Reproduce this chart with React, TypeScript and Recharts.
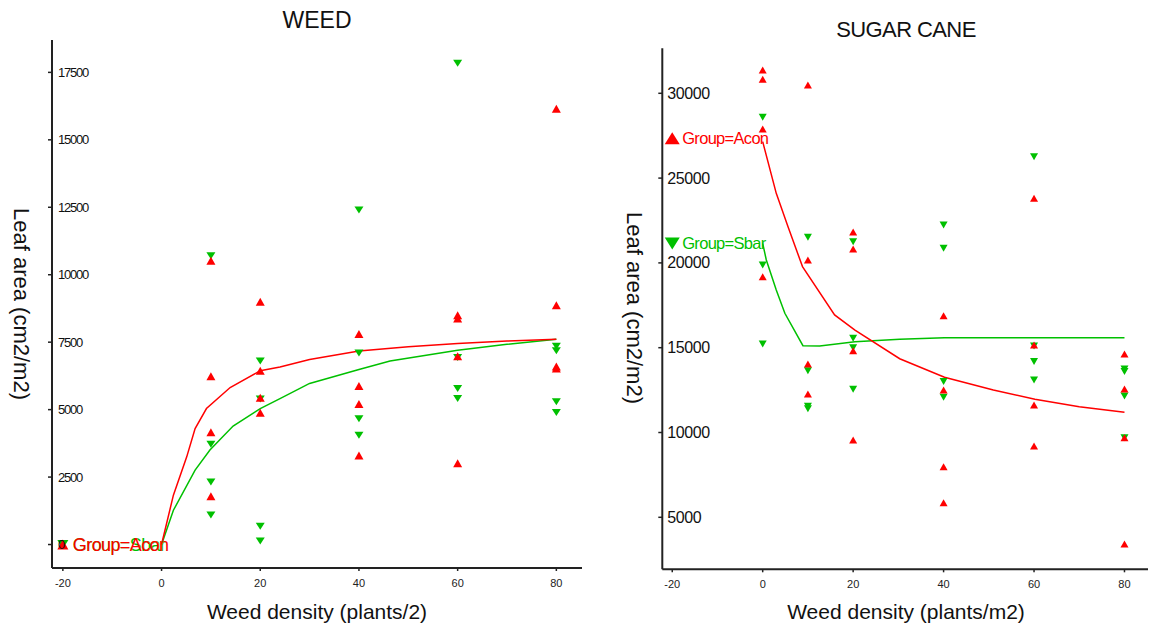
import React from 'react';
import { ComposedChart, Line, Scatter, XAxis, YAxis } from 'recharts';

// ---------- shared ----------
const xTicks = [-20, 0, 20, 40, 60, 80];
const xDomain = [-22.2, 85.2];
const RED = '#ff0000';
const GREEN = '#00c000';
const FONT = '"Liberation Sans", Arial, sans-serif';

// ---------- WEED (left) ----------
const weedYTicks = [0, 2500, 5000, 7500, 10000, 12500, 15000, 17500];
const weedYDomain = [-870, 18700];

const weedAconPoints = [
  { x: 10, y: 10520 }, { x: 10, y: 6240 }, { x: 10, y: 4160 }, { x: 10, y: 1790 },
  { x: 20, y: 9000 }, { x: 20, y: 6440 }, { x: 20, y: 5440 }, { x: 20, y: 4880 },
  { x: 40, y: 7800 }, { x: 40, y: 5880 }, { x: 40, y: 5210 }, { x: 40, y: 3300 },
  { x: 60, y: 8500 }, { x: 60, y: 8380 }, { x: 60, y: 6980 }, { x: 60, y: 3010 },
  { x: 80, y: 16150 }, { x: 80, y: 8870 }, { x: 80, y: 6600 }, { x: 80, y: 6520 },
];
const weedSbarPoints = [
  { x: 10, y: 10700 }, { x: 10, y: 3720 }, { x: 10, y: 2320 }, { x: 10, y: 1090 },
  { x: 20, y: 6800 }, { x: 20, y: 5390 }, { x: 20, y: 680 }, { x: 20, y: 130 },
  { x: 40, y: 12400 }, { x: 40, y: 7100 }, { x: 40, y: 4660 }, { x: 40, y: 4050 },
  { x: 60, y: 17840 }, { x: 60, y: 6930 }, { x: 60, y: 5780 }, { x: 60, y: 5410 },
  { x: 80, y: 7350 }, { x: 80, y: 7180 }, { x: 80, y: 5290 }, { x: 80, y: 4890 },
];
const weedAconCurve = [
  { x: 0, y: 0 }, { x: 2.4, y: 1830 }, { x: 5.1, y: 3250 }, { x: 6.8, y: 4300 },
  { x: 9.1, y: 5040 }, { x: 13.9, y: 5820 }, { x: 20, y: 6440 }, { x: 24, y: 6580 },
  { x: 30, y: 6860 }, { x: 40, y: 7170 }, { x: 50, y: 7330 }, { x: 60, y: 7450 },
  { x: 70, y: 7540 }, { x: 80, y: 7610 },
];
const weedSbarCurve = [
  { x: 0, y: 0 }, { x: 2.4, y: 1270 }, { x: 6.8, y: 2760 }, { x: 9.8, y: 3500 },
  { x: 14.5, y: 4390 }, { x: 20, y: 5040 }, { x: 24, y: 5410 }, { x: 30, y: 5970 },
  { x: 40, y: 6490 }, { x: 46.3, y: 6800 }, { x: 60, y: 7200 }, { x: 70, y: 7420 },
  { x: 80, y: 7610 },
];
const weedAconLegend = [{ x: -20, y: 0, label: 'Group=Acon' }];
const weedSbarLegend = [{ x: -20, y: 0, label: 'Group=Sbar' }];

// ---------- SUGAR CANE (right) ----------
const caneYTicks = [5000, 10000, 15000, 20000, 25000, 30000];
const caneYDomain = [1934, 32653];

const caneAconPoints = [
  { x: 0, y: 31370 }, { x: 0, y: 30830 }, { x: 0, y: 27900 }, { x: 0, y: 19190 },
  { x: 10, y: 30490 }, { x: 10, y: 20170 }, { x: 10, y: 14040 }, { x: 10, y: 12270 },
  { x: 20, y: 21820 }, { x: 20, y: 20820 }, { x: 20, y: 14820 }, { x: 20, y: 9560 },
  { x: 40, y: 16880 }, { x: 40, y: 12510 }, { x: 40, y: 7980 }, { x: 40, y: 5860 },
  { x: 60, y: 23810 }, { x: 60, y: 15160 }, { x: 60, y: 11620 }, { x: 60, y: 9200 },
  { x: 80, y: 14630 }, { x: 80, y: 12570 }, { x: 80, y: 9690 }, { x: 80, y: 3430 },
];
const caneSbarPoints = [
  { x: 0, y: 28590 }, { x: 0, y: 19880 }, { x: 0, y: 15220 },
  { x: 10, y: 21510 }, { x: 10, y: 13640 }, { x: 10, y: 11550 }, { x: 10, y: 11400 },
  { x: 20, y: 21250 }, { x: 20, y: 15550 }, { x: 20, y: 15000 }, { x: 20, y: 12550 },
  { x: 40, y: 22240 }, { x: 40, y: 20860 }, { x: 40, y: 13000 }, { x: 40, y: 12080 },
  { x: 60, y: 26260 }, { x: 60, y: 15100 }, { x: 60, y: 14180 }, { x: 60, y: 13100 },
  { x: 80, y: 13740 }, { x: 80, y: 13590 }, { x: 80, y: 12150 }, { x: 80, y: 9690 },
];
const caneAconCurve = [
  { x: 0, y: 27150 }, { x: 3, y: 24100 }, { x: 5.6, y: 22130 }, { x: 8.8, y: 19780 },
  { x: 15.9, y: 16930 }, { x: 20.4, y: 16040 }, { x: 30.3, y: 14350 }, { x: 40.2, y: 13260 },
  { x: 51, y: 12500 }, { x: 60.2, y: 11960 }, { x: 70, y: 11520 }, { x: 80, y: 11190 },
];
const caneSbarCurve = [
  { x: 0, y: 21150 }, { x: 0.8, y: 20170 }, { x: 3, y: 18400 }, { x: 4.9, y: 17030 },
  { x: 8.9, y: 15120 }, { x: 12.6, y: 15100 }, { x: 20.4, y: 15350 }, { x: 30.3, y: 15500 },
  { x: 40.2, y: 15590 }, { x: 80, y: 15590 },
];
const caneAconLegend = [{ x: -20, y: 27350, label: 'Group=Acon' }];
const caneSbarLegend = [{ x: -20, y: 21150, label: 'Group=Sbar' }];

// ---------- shapes ----------
const upTri = (color: string, w: number, h: number) => (p: any) => {
  const { cx, cy } = p;
  if (cx == null || cy == null) return <g />;
  return (
    <polygon
      points={`${cx - w / 2},${cy + h / 2} ${cx + w / 2},${cy + h / 2} ${cx},${cy - h / 2}`}
      fill={color}
    />
  );
};
const downTri = (color: string, w: number, h: number) => (p: any) => {
  const { cx, cy } = p;
  if (cx == null || cy == null) return <g />;
  return (
    <polygon
      points={`${cx - w / 2},${cy - h / 2} ${cx + w / 2},${cy - h / 2} ${cx},${cy + h / 2}`}
      fill={color}
    />
  );
};
const legendShape = (color: string, up: boolean, w: number, h: number, fs: number, ls: number) => (p: any) => {
  const { cx, cy, payload } = p;
  if (cx == null || cy == null) return <g />;
  const pts = up
    ? `${cx - w / 2},${cy + h / 2} ${cx + w / 2},${cy + h / 2} ${cx},${cy - h / 2}`
    : `${cx - w / 2},${cy - h / 2} ${cx + w / 2},${cy - h / 2} ${cx},${cy + h / 2}`;
  return (
    <g>
      <polygon points={pts} fill={color} />
      <text x={cx + 10} y={cy} dy="0.35em" fill={color} fontSize={fs} fontFamily={FONT} letterSpacing={ls}>
        {payload.label}
      </text>
    </g>
  );
};

const yTick = (dx: number, fs: number, ls: number) => (p: any) => (
  <text x={p.x + dx} y={p.y} dy="0.35em" textAnchor="start" fontSize={fs} fontFamily={FONT} fill="#111" letterSpacing={ls}>
    {p.payload.value}
  </text>
);
const xTick = (fs: number) => (p: any) => (
  <text x={p.x} y={p.y} dy="0.71em" textAnchor="middle" fontSize={fs} fontFamily={FONT} fill="#222">
    {p.payload.value}
  </text>
);

const axisLine = { stroke: '#222', strokeWidth: 2 };
const tickLine = { stroke: '#222', strokeWidth: 1.5 };

export default function App() {
  return (
    <div style={{ position: 'absolute', left: 0, top: 0, width: 1149, height: 628, background: '#fff', overflow: 'hidden' }}>
      <div style={{ position: 'absolute', left: 0, top: 0 }}>
        <ComposedChart width={600} height={628} margin={{ top: 40, right: 18, bottom: 50, left: 42 }}>
          <XAxis type="number" dataKey="x" domain={xDomain} ticks={xTicks} allowDataOverflow height={10}
            axisLine={axisLine} tickLine={tickLine} tickSize={3} tickMargin={8} tick={xTick(11)} />
          <YAxis type="number" dataKey="y" domain={weedYDomain} ticks={weedYTicks} allowDataOverflow width={10}
            axisLine={axisLine} tickLine={tickLine} tickSize={4} tickMargin={0} tick={yTick(10, 13, -1.2)} />
          <Line data={weedSbarCurve} dataKey="y" stroke={GREEN} strokeWidth={1.5} dot={false} activeDot={false} isAnimationActive={false} type="linear" />
          <Line data={weedAconCurve} dataKey="y" stroke={RED} strokeWidth={1.5} dot={false} activeDot={false} isAnimationActive={false} type="linear" />
          <Scatter data={weedSbarPoints} dataKey="y" shape={downTri(GREEN, 9, 7)} isAnimationActive={false} />
          <Scatter data={weedAconPoints} dataKey="y" shape={upTri(RED, 9, 8)} isAnimationActive={false} />
          <Scatter data={weedSbarLegend} dataKey="y" shape={legendShape(GREEN, false, 11, 9, 18, -0.6)} isAnimationActive={false} />
          <Scatter data={weedAconLegend} dataKey="y" shape={legendShape(RED, true, 11, 10, 18, -0.6)} isAnimationActive={false} />
        </ComposedChart>
      </div>
      <div style={{ position: 'absolute', left: 600, top: 0 }}>
        <ComposedChart width={549} height={628} margin={{ top: 48.3, right: 1, bottom: 48.7, left: 52.3 }}>
          <XAxis type="number" dataKey="x" domain={xDomain} ticks={xTicks} allowDataOverflow height={10}
            axisLine={axisLine} tickLine={tickLine} tickSize={3} tickMargin={8} tick={xTick(11)} />
          <YAxis type="number" dataKey="y" domain={caneYDomain} ticks={caneYTicks} allowDataOverflow width={10}
            axisLine={axisLine} tickLine={tickLine} tickSize={4} tickMargin={0} tick={yTick(9, 16, -0.4)} />
          <Line data={caneSbarCurve} dataKey="y" stroke={GREEN} strokeWidth={1.5} dot={false} activeDot={false} isAnimationActive={false} type="linear" />
          <Line data={caneAconCurve} dataKey="y" stroke={RED} strokeWidth={1.5} dot={false} activeDot={false} isAnimationActive={false} type="linear" />
          <Scatter data={caneSbarPoints} dataKey="y" shape={downTri(GREEN, 8, 7)} isAnimationActive={false} />
          <Scatter data={caneAconPoints} dataKey="y" shape={upTri(RED, 8, 7)} isAnimationActive={false} />
          <Scatter data={caneSbarLegend} dataKey="y" shape={legendShape(GREEN, false, 15, 12, 16.5, -0.7)} isAnimationActive={false} />
          <Scatter data={caneAconLegend} dataKey="y" shape={legendShape(RED, true, 15, 12, 16.5, -0.7)} isAnimationActive={false} />
        </ComposedChart>
      </div>
      <svg width={1149} height={628} style={{ position: 'absolute', left: 0, top: 0, pointerEvents: 'none' }}>
        <g fontFamily={FONT} fill="#111">
          <text x={317} y={28} textAnchor="middle" fontSize={23}>WEED</text>
          <text x={906} y={37} textAnchor="middle" fontSize={22} letterSpacing={-0.6}>SUGAR CANE</text>
          <text x={317} y={619} textAnchor="middle" fontSize={21}>Weed density (plants/2)</text>
          <text x={906} y={619} textAnchor="middle" fontSize={21}>Weed density (plants/m2)</text>
          <text transform="translate(14,304) rotate(90)" textAnchor="middle" fontSize={22}>Leaf area (cm2/m2)</text>
          <text transform="translate(627,308) rotate(90)" textAnchor="middle" fontSize={22}>Leaf area (cm2/m2)</text>
        </g>
      </svg>
    </div>
  );
}
